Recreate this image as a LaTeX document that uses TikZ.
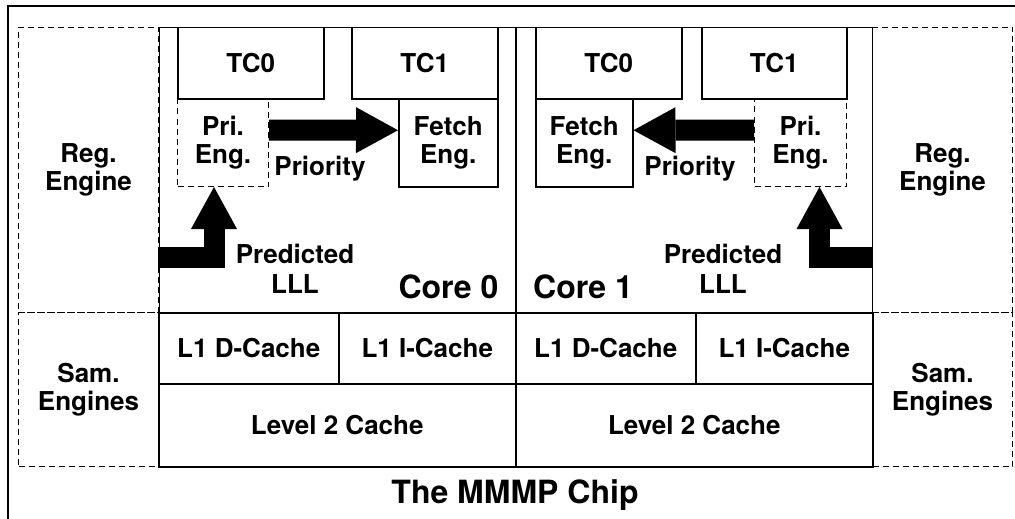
\documentclass[tikz,border=0pt]{standalone}
\usepackage{fontspec}
\setmainfont{TeX Gyre Heros}
\usetikzlibrary{arrows.meta,calc}

\tikzset{
  lbl/.style={font=\bfseries\fontsize{26}{28}\selectfont, align=center},
  unit/.style={draw, line width=1.5pt, rectangle, inner sep=0pt, anchor=north west, lbl},
  spare/.style={draw, line width=1pt, dash pattern=on 6pt off 4pt, rectangle,
                inner sep=0pt, anchor=north west, fill=white, lbl},
  corelbl/.style={font=\bfseries\fontsize{32}{34}\selectfont, inner sep=0pt},
  blk/.style={line width=21pt, line join=miter,
              -{Triangle[length=42pt,width=46pt,line width=0pt]}},
}

\begin{document}
\begin{tikzpicture}[x=1pt,y=-1pt]
\useasboundingbox (0,0) rectangle (1015,519);
\clip (0,0) rectangle (1015,519);

% chip outline
\draw[line width=1.6pt] (8,540) -- (8,6) -- (1040,6);

% the two cores
\node[unit, minimum width=357pt, minimum height=285pt] (core0) at (158,27) {};
\node[unit, minimum width=357pt, minimum height=285pt] (core1) at (515,27) {};

% register and sampling engines on both sides
\node[spare, minimum width=140pt, minimum height=285pt] (regL) at (18,27) {Reg.\\Engine};
\node[spare, minimum width=140pt, minimum height=285pt] (regR) at (872,27) {Reg.\\Engine};
\node[spare, minimum width=140pt, minimum height=154pt] (samL) at (18,312) {Sam.\\Engines};
\node[spare, minimum width=140pt, minimum height=154pt] (samR) at (872,312) {Sam.\\Engines};

% caches
\node[unit, minimum width=180pt, minimum height=71pt] (l1d0) at (158,312) {L1 D-Cache};
\node[unit, minimum width=177pt, minimum height=71pt] (l1i0) at (338,312) {L1 I-Cache};
\node[unit, minimum width=357pt, minimum height=83pt] (l2c0) at (158,383) {Level 2 Cache};
\node[unit, minimum width=180pt, minimum height=71pt] (l1d1) at (515,312) {L1 D-Cache};
\node[unit, minimum width=177pt, minimum height=71pt] (l1i1) at (695,312) {L1 I-Cache};
\node[unit, minimum width=357pt, minimum height=83pt] (l2c1) at (515,383) {Level 2 Cache};

% per-core priority and fetch engines
\node[spare, minimum width=91pt, minimum height=88pt] (pri0) at (177,98) {Pri.\\Eng.};
\node[unit, minimum width=99pt, minimum height=88pt] (fetch0) at (398,98) {Fetch\\Eng.};
\node[unit, minimum width=97pt, minimum height=88pt] (fetch1) at (535,98) {Fetch\\Eng.};
\node[spare, minimum width=92pt, minimum height=88pt] (pri1) at (754,98) {Pri.\\Eng.};

% thread contexts
\node[unit, minimum width=146pt, minimum height=71pt] (tc0a) at (177,27) {TC0};
\node[unit, minimum width=146pt, minimum height=71pt] (tc1a) at (351,27) {TC1};
\node[unit, minimum width=146pt, minimum height=71pt] (tc0b) at (535,27) {TC0};
\node[unit, minimum width=145pt, minimum height=71pt] (tc1b) at (701,27) {TC1};

% priority arrows
\draw[blk] ([yshift=12.5pt]pri0.east) -- ([yshift=12.5pt]fetch0.west);
\draw[blk] ([yshift=12.5pt]pri1.west) -- ([yshift=12.5pt]fetch1.east);
\node[lbl, anchor=base] (prio0) at (320,175) {Priority};
\node[lbl, anchor=base] (prio1) at (690,175) {Priority};

% predicted LLL arrows
\coordinate (in0) at (158,257);
\coordinate (in1) at (872,257);
\draw[blk] (in0) -| ([xshift=-9pt]pri0.south);
\draw[blk] (in1) -| ([xshift=19pt]pri1.south);
\node[lbl, font=\bfseries\fontsize{26}{30}\selectfont] (lll0) at (295,269) {Predicted\\LLL};
\node[lbl, font=\bfseries\fontsize{26}{30}\selectfont] (lll1) at (723,269) {Predicted\\LLL};

% core names
\node[corelbl, anchor=base east] (name0) at ([xshift=-18pt,yshift=15pt]core0.south east) {Core 0};
\node[corelbl, anchor=base west] (name1) at ([xshift=18pt,yshift=15pt]core1.south west) {Core 1};

% chip title
\node[corelbl, anchor=base] (title) at (515,503) {The MMMP Chip};
\end{tikzpicture}
\end{document}
